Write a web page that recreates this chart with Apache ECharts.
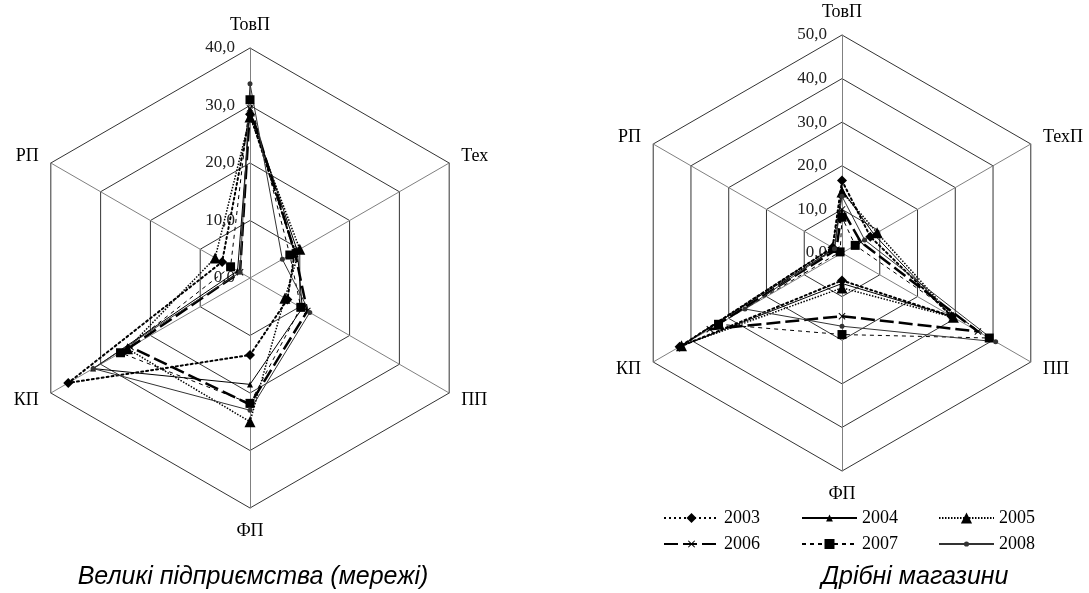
<!DOCTYPE html>
<html><head><meta charset="utf-8">
<script src="https://cdn.jsdelivr.net/npm/echarts@6/dist/echarts.min.js"></script>
<style>html,body{margin:0;padding:0;background:#fff}#c{width:1089px;height:593px}</style>
</head><body><div id="c"></div>
<script>
const years = ['2003', '2004', '2005', '2006', '2007', '2008'];
const bigAxes = ['ТовП', 'Тех', 'ПП', 'ФП', 'КП', 'РП'];
const smallAxes = ['ТовП', 'ТехП', 'ПП', 'ФП', 'КП', 'РП'];
const bigMax = 40;
const smallMax = 50;
const bigTitle = 'Великі підприємства (мережі)';
const smallTitle = 'Дрібні магазини';

// Великі підприємства: [ТовП, Тех, ПП, ФП, КП, РП]
const big2003 = [28.5, 9.0, 7.5, 13.4, 36.5, 5.6];
const big2004 = [29.0, 9.5, 10.5, 18.5, 31.5, 2.5];
const big2005 = [28.0, 10.0, 7.0, 25.0, 24.6, 7.0];
const big2006 = [29.5, 9.0, 11.5, 22.0, 24.0, 2.0];
const big2007 = [31.0, 8.0, 10.2, 21.8, 26.0, 3.9];
const big2008 = [33.8, 6.5, 12.0, 23.0, 31.5, 2.0];

// Дрібні магазини: [ТовП, ТехП, ПП, ФП, КП, РП]
const small2003 = [16.6, 7.5, 29.0, 6.3, 43.0, 2.5];
const small2004 = [14.5, 8.5, 29.0, 7.0, 43.0, 2.0];
const small2005 = [14.0, 9.3, 29.5, 8.0, 42.5, 2.5];
const small2006 = [10.0, 5.0, 36.0, 14.5, 35.0, 1.5];
const small2007 = [8.2, 3.5, 39.0, 18.7, 32.7, 0.5];
const small2008 = [13.0, 6.0, 40.7, 16.8, 25.7, 2.0];

const bigData = [big2003, big2004, big2005, big2006, big2007, big2008];
const smallData = [small2003, small2004, small2005, small2006, small2007, small2008];

// display order (ECharts radar runs counter-clockwise): top, upper-left, lower-left, bottom, lower-right, upper-right
const order = [0, 5, 4, 3, 2, 1];
const XPATH = 'path://M1,0L5,4L9,0L10,1L6,5L10,9L9,10L5,6L1,10L0,9L4,5L0,1Z';
const styles = [
  { type: [2, 3], width: 2, color: '#000', symbol: 'diamond', size: 10, cap: 'round', lh: 12.5 },
  { type: 'solid', width: 1, color: '#000', symbol: 'triangle', size: 6, lh: 8.5 },
  { type: [1.5, 1.5], width: 1.5, color: '#000', symbol: 'triangle', size: 11, lh: 14 },
  { type: [14, 5], width: 2.5, color: '#000', symbol: XPATH, size: 7, lh: 9 },
  { type: [4, 4], width: 1, color: '#000', symbol: 'rect', size: 9, lh: 12.5 },
  { type: 'solid', width: 1, color: '#333', symbol: 'circle', size: 5, lh: 6.5 }
];
const fmt = v => v.toFixed(1).replace('.', ',');
const serif = 'Liberation Serif';

function indicators(names, max) {
  return order.map((k, i) => ({
    name: names[k], max: max, min: 0,
    axisLabel: i === 0 ? { show: true } : { show: false }
  }));
}
function radarCfg(names, max, split, center, radius) {
  return {
    indicator: indicators(names, max),
    center: center, radius: radius, shape: 'polygon', splitNumber: split,
    startAngle: 90,
    axisName: { color: '#000', fontFamily: serif, fontSize: 18 },
    nameGap: 14,
    axisLine: { lineStyle: { color: '#808080', width: 1 } },
    splitLine: { lineStyle: { color: '#333', width: 1 } },
    splitArea: { show: false },
    axisLabel: { show: true, formatter: fmt, color: '#222', fontFamily: serif, fontSize: 17, margin: 15, showMinLabel: true, showMaxLabel: true }
  };
}
function seriesData(arr) {
  return arr.map((vals, i) => {
    const s = styles[i];
    return {
      name: years[i],
      value: order.map(k => vals[k]),
      symbol: s.symbol, symbolSize: s.size,
      lineStyle: { color: s.color, width: s.width, type: s.type, cap: s.cap || 'butt' },
      itemStyle: { color: s.color }
    };
  });
}
const legendSeries = years.map((y, i) => {
  const s = styles[i];
  return {
    type: 'line', name: y, xAxisIndex: 0, yAxisIndex: 0, data: [],
    symbol: s.symbol, symbolSize: s.size,
    lineStyle: { color: s.color, width: s.width, type: s.type },
    itemStyle: { color: s.color }
  };
});
const legendText = { fontFamily: serif, fontSize: 18, color: '#000' };
const legendCols = [663, 801, 938];
const legendRows = [509, 535];
const legends = years.map((y, i) => ({
  data: [y],
  left: legendCols[i % 3],
  top: legendRows[Math.floor(i / 3)],
  itemWidth: 55, itemHeight: styles[i].lh, padding: 0,
  textStyle: legendText, selectedMode: false
}));
const titleStyle = { fontFamily: 'Liberation Sans', fontStyle: 'italic', fontWeight: 'normal', fontSize: 25, color: '#000' };
const option = {
  animation: false,
  backgroundColor: '#fff',
  title: [
    { text: bigTitle, left: 253, top: 565, textAlign: 'center', padding: 0, textStyle: titleStyle },
    { text: smallTitle, left: 915, top: 565, textAlign: 'center', padding: 0, textStyle: titleStyle }
  ],
  legend: legends,
  grid: { left: -200, top: -200, width: 10, height: 10, show: false },
  xAxis: { show: false, type: 'value' },
  yAxis: { show: false, type: 'value' },
  radar: [
    radarCfg(bigAxes, bigMax, 4, [250, 278], 230),
    radarCfg(smallAxes, smallMax, 5, [842, 253], 218)
  ],
  series: [
    { type: 'radar', radarIndex: 0, data: seriesData(bigData) },
    { type: 'radar', radarIndex: 1, data: seriesData(smallData) }
  ].concat(legendSeries)
};
const chart = echarts.init(document.getElementById('c'), null, { renderer: 'canvas' });
chart.setOption(option);
</script></body></html>
